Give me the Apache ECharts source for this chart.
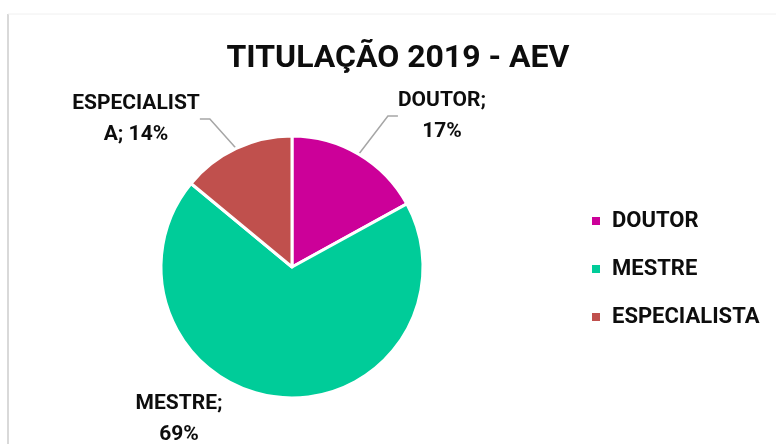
<!DOCTYPE html>
<html>
<head>
<meta charset="utf-8">
<title>TITULAÇÃO 2019 - AEV</title>
<script src="https://cdn.jsdelivr.net/npm/echarts@6/dist/echarts.min.js"></script>
<style>
	html, body { margin: 0; padding: 0; background: #fff; }
	#chart { width: 776px; height: 444px; }
</style>
</head>
<body>
<div id="chart"></div>
<script>
// dados do gráfico
const categories = ['DOUTOR', 'MESTRE', 'ESPECIALISTA'];
const percentages = [17, 69, 14];
const sliceColors = ['#CC0099', '#00CC99', '#C0504D'];

// posição dos rótulos (centro do bloco de texto)
const labelCenters = [[442, 116], [179, 419], [136, 119]];
const wrapAt = 11; // o Excel quebra o nome longo aqui

const FONT = 'Roboto, "Liberation Sans", sans-serif';

const chart = echarts.init(document.getElementById('chart'), null, { renderer: 'canvas' });

const option = {
	backgroundColor: '#fff',
	color: sliceColors,
	animation: false,
	title: {
		text: 'TITULAÇÃO 2019 - AEV',
		left: 398,
		top: 43,
		padding: 0,
		textAlign: 'center',
		textStyle: {
			fontFamily: FONT,
			fontWeight: 'bold',
			fontSize: 32,
			color: '#0d0d0d',
		},
	},
	legend: {
		orient: 'vertical',
		left: 590,
		top: 210,
		padding: 0,
		icon: 'rect',
		itemWidth: 10,
		itemHeight: 10,
		itemGap: 26,
		data: categories,
		textStyle: {
			fontFamily: FONT,
			fontWeight: 'bold',
			fontSize: 22,
			lineHeight: 22,
			color: '#0d0d0d',
			padding: [0, 0, 0, 6],
		},
	},
	// moldura da área do gráfico
	graphic: [
		{ type: 'line', shape: { x1: 8, y1: 14, x2: 8, y2: 444 }, style: { stroke: '#d9d9d9', lineWidth: 2 } },
		{ type: 'line', shape: { x1: 8, y1: 14, x2: 776, y2: 14 }, style: { stroke: '#f0f0f0', lineWidth: 1 } },
	],
	series: [
		{
			type: 'pie',
			center: [292, 267],
			radius: 131,
			startAngle: 90,
			clockwise: true,
			itemStyle: {
				borderColor: '#fff',
				borderWidth: 3,
			},
			label: {
				show: true,
				fontFamily: FONT,
				fontWeight: 'bold',
				fontSize: 21,
				lineHeight: 31,
				color: '#0d0d0d',
				align: 'center',
				formatter: (p) => {
					const pct = Math.round(p.percent) + '%';
					if (p.name.length <= wrapAt) return p.name + ';\n' + pct;
					const t = p.name + '; ' + pct;
					return t.slice(0, wrapAt) + '\n' + t.slice(wrapAt);
				},
			},
			labelLine: {
				show: true,
				length: 20,
				length2: 10,
				lineStyle: { color: '#a6a6a6', width: 1.5 },
			},
			labelLayout: (params) => {
				const c = labelCenters[params.dataIndex];
				return { x: c[0], y: c[1], align: 'center', verticalAlign: 'middle' };
			},
			emphasis: { disabled: true },
			data: categories.map((name, i) => ({
				name: name,
				value: percentages[i],
				labelLine: { show: name !== 'MESTRE' },
			})),
		},
	],
};

chart.setOption(option);
</script>
</body>
</html>
